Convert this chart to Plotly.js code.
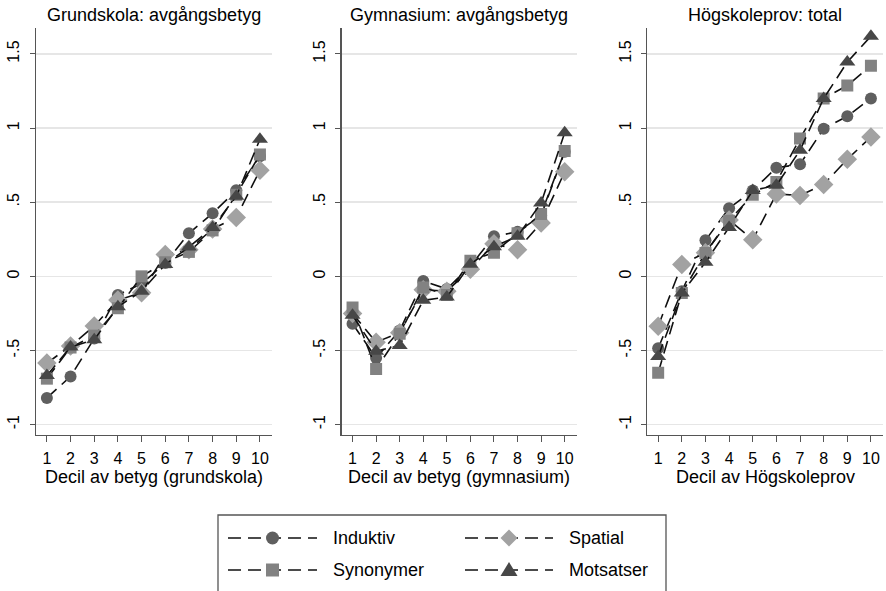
<!DOCTYPE html>
<html>
<head>
<meta charset="utf-8">
<script src="https://cdn.plot.ly/plotly-3.0.1.min.js"></script>
<style>
  html, body { margin: 0; padding: 0; background: #fff; }
  #chart { width: 886px; height: 591px; }
</style>
</head>
<body>
<div id="chart"></div>
<script>
// Deciles on the x axis of each panel
const deciles = [1, 2, 3, 4, 5, 6, 7, 8, 9, 10];
const xTickLabels = ['1', '2', '3', '4', '5', '6', '7', '8', '9', '10'];
const yTickVals = [-1, -0.5, 0, 0.5, 1, 1.5];
const yTickLabels = ['-1', '-.5', '0', '.5', '1', '1.5'];

const panelTitles = ['Grundskola: avgångsbetyg', 'Gymnasium: avgångsbetyg', 'Högskoleprov: total'];
const axisTitles = ['Decil av betyg (grundskola)', 'Decil av betyg (gymnasium)', 'Decil av Högskoleprov'];
const seriesNames = ['Induktiv', 'Spatial', 'Synonymer', 'Motsatser'];

// Grundskola: avgångsbetyg
const grundInduktiv  = [-0.82, -0.675, -0.42, -0.125, -0.05, 0.09, 0.29, 0.425, 0.58, 0.81];
const grundSpatial   = [-0.585, -0.47, -0.335, -0.16, -0.11, 0.148, 0.18, 0.32, 0.397, 0.716];
const grundSynonymer = [-0.69, -0.48, -0.40, -0.215, 0.0, 0.095, 0.165, 0.31, 0.55, 0.822];
const grundMotsatser = [-0.668, -0.477, -0.428, -0.205, -0.10, 0.08, 0.198, 0.33, 0.54, 0.924];

// Gymnasium: avgångsbetyg
const gymnInduktiv  = [-0.32, -0.55, -0.365, -0.032, -0.085, 0.07, 0.27, 0.30, 0.41, 0.84];
const gymnSpatial   = [-0.25, -0.444, -0.38, -0.09, -0.10, 0.048, 0.22, 0.18, 0.36, 0.705];
const gymnSynonymer = [-0.21, -0.625, -0.387, -0.075, -0.125, 0.105, 0.16, 0.29, 0.42, 0.845];
const gymnMotsatser = [-0.263, -0.505, -0.466, -0.162, -0.14, 0.081, 0.20, 0.27, 0.495, 0.968];

// Högskoleprov: total
const hpInduktiv  = [-0.485, -0.10, 0.243, 0.46, 0.579, 0.733, 0.756, 0.996, 1.08, 1.20];
const hpSpatial   = [-0.336, 0.08, 0.16, 0.38, 0.247, 0.556, 0.545, 0.62, 0.79, 0.94];
const hpSynonymer = [-0.65, -0.112, 0.158, 0.375, 0.55, 0.636, 0.93, 1.20, 1.287, 1.42];
const hpMotsatser = [-0.54, -0.112, 0.095, 0.33, 0.579, 0.614, 0.85, 1.20, 1.445, 1.62];

const panels = [
  [grundInduktiv, grundSpatial, grundSynonymer, grundMotsatser],
  [gymnInduktiv, gymnSpatial, gymnSynonymer, gymnMotsatser],
  [hpInduktiv, hpSpatial, hpSynonymer, hpMotsatser]
];

const W = 886, H = 591;
const FONT = 'Liberation Sans, Arial, sans-serif';
const DASH = '13px,7px';
const styles = [
  { symbol: 'circle',        color: '#5f5f5f', size: 12 },
  { symbol: 'diamond',       color: '#a2a2a2', size: 15 },
  { symbol: 'square',        color: '#828282', size: 12 },
  { symbol: 'triangle-up',   color: '#474747', size: 14 }
];

// Panel placement in pixels (left, right), shared vertical extent
const panelPx = [[36, 272], [341.7, 576.7], [647.3, 883]];
const plotTop = 28, plotBottom = 435;
const px = x => x / W;
const py = y => 1 - y / H;

const traces = [];
panels.forEach((series, p) => {
  const sx = p === 0 ? 'x' : 'x' + (p + 1);
  const sy = p === 0 ? 'y' : 'y' + (p + 1);
  series.forEach((vals, s) => {
    traces.push({
      type: 'scatter', mode: 'lines+markers',
      x: deciles, y: vals, xaxis: sx, yaxis: sy,
      name: seriesNames[s], showlegend: false,
      line: { color: '#111', width: 1.6, dash: DASH },
      marker: { symbol: styles[s].symbol, color: styles[s].color, size: styles[s].size, line: { width: 0 } },
      hoverinfo: 'skip'
    });
  });
});

const layout = {
  width: W, height: H,
  margin: { l: 0, r: 0, t: 0, b: 0 },
  paper_bgcolor: '#fff', plot_bgcolor: '#fff',
  font: { family: FONT, color: '#000', size: 16 },
  showlegend: false,
  annotations: [],
  shapes: []
};

panelPx.forEach((pp, p) => {
  const suf = p === 0 ? '' : String(p + 1);
  layout['xaxis' + suf] = {
    domain: [px(pp[0]), px(pp[1])],
    range: [0.54, 10.51],
    anchor: 'y' + suf,
    tickvals: deciles, ticktext: xTickLabels,
    ticks: 'outside', ticklen: 6, tickwidth: 1, tickcolor: '#555',
    ticklabelstandoff: 2,
    showgrid: false, zeroline: false,
    showline: true, linecolor: '#555', linewidth: 1.3,
    tickfont: { family: FONT, size: 16, color: '#000' },
    fixedrange: true
  };
  layout['yaxis' + suf] = {
    domain: [py(plotBottom), py(plotTop)],
    range: [-1.07, 1.675],
    anchor: 'x' + suf,
    tickvals: yTickVals, ticktext: yTickLabels,
    tickangle: -90,
    ticks: 'outside', ticklen: 5, tickwidth: 1, tickcolor: '#555',
    ticklabelstandoff: 4,
    showgrid: true, gridcolor: '#e6e6e6', gridwidth: 1.5,
    zeroline: false,
    showline: true, linecolor: '#555', linewidth: 1.3,
    tickfont: { family: FONT, size: 16, color: '#000' },
    fixedrange: true
  };
  const cx = px((pp[0] + pp[1]) / 2);
  layout.annotations.push({
    text: panelTitles[p], xref: 'paper', yref: 'paper',
    x: cx, y: py(15), xanchor: 'center', yanchor: 'middle', showarrow: false,
    font: { family: FONT, size: 18, color: '#000' }
  });
  layout.annotations.push({
    text: axisTitles[p], xref: 'paper', yref: 'paper',
    x: cx, y: py(477), xanchor: 'center', yanchor: 'middle', showarrow: false,
    font: { family: FONT, size: 18, color: '#000' }
  });
});

// Legend box with two columns of keys
layout.shapes.push({
  type: 'rect', xref: 'paper', yref: 'paper',
  x0: px(218), x1: px(666), y0: py(600), y1: py(515),
  line: { color: '#555', width: 1.3 }, fillcolor: 'rgba(0,0,0,0)'
});
const keyCols = [{ x0: 228, x1: 317, tx: 331 }, { x0: 465, x1: 553, tx: 567 }];
const keyRows = [538, 570];
const keyOrder = [0, 1, 2, 3]; // row-major: Induktiv, Spatial / Synonymer, Motsatser
keyOrder.forEach((s, i) => {
  const col = keyCols[i % 2], row = keyRows[Math.floor(i / 2)];
  layout.shapes.push({
    type: 'line', xref: 'paper', yref: 'paper',
    x0: px(col.x0), x1: px(col.x1), y0: py(row), y1: py(row),
    line: { color: '#111', width: 1.6, dash: DASH }
  });
  const mx = (col.x0 + col.x1) / 2;
  const st = styles[s];
  let path;
  if (st.symbol === 'circle') {
    layout.shapes.push({ type: 'circle', xref: 'paper', yref: 'paper',
      x0: px(mx - 6.5), x1: px(mx + 6.5), y0: py(row + 6.5), y1: py(row - 6.5),
      fillcolor: st.color, line: { width: 0 } });
  } else if (st.symbol === 'square') {
    layout.shapes.push({ type: 'rect', xref: 'paper', yref: 'paper',
      x0: px(mx - 6.5), x1: px(mx + 6.5), y0: py(row + 6.5), y1: py(row - 6.5),
      fillcolor: st.color, line: { width: 0 } });
  } else if (st.symbol === 'diamond') {
    path = `M ${px(mx)} ${py(row - 8.5)} L ${px(mx + 8.5)} ${py(row)} L ${px(mx)} ${py(row + 8.5)} L ${px(mx - 8.5)} ${py(row)} Z`;
  } else {
    path = `M ${px(mx)} ${py(row - 8)} L ${px(mx + 8.5)} ${py(row + 6)} L ${px(mx - 8.5)} ${py(row + 6)} Z`;
  }
  if (path) {
    layout.shapes.push({ type: 'path', xref: 'paper', yref: 'paper', path: path,
      fillcolor: st.color, line: { width: 0 } });
  }
  layout.annotations.push({
    text: seriesNames[s], xref: 'paper', yref: 'paper',
    x: px(col.tx), y: py(row), xanchor: 'left', yanchor: 'middle', showarrow: false,
    font: { family: FONT, size: 18, color: '#000' }
  });
});

Plotly.newPlot('chart', traces, layout, { staticPlot: true, displayModeBar: false });
</script>
</body>
</html>
